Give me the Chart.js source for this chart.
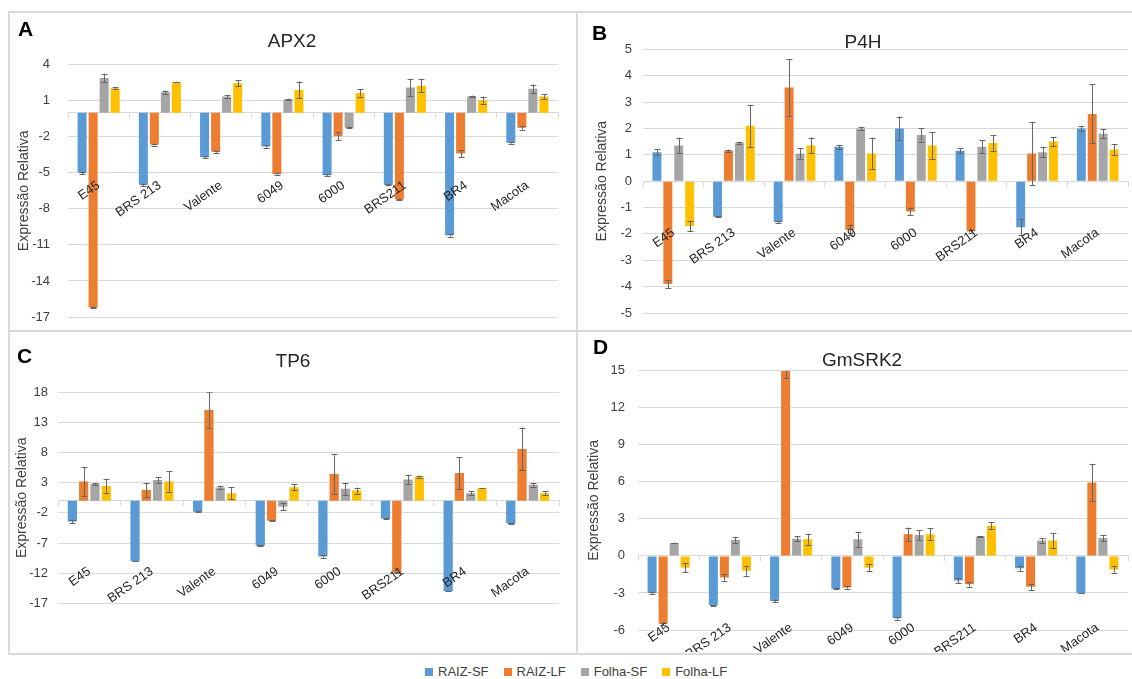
<!DOCTYPE html>
<html>
<head>
<meta charset="utf-8">
<script src="https://cdn.jsdelivr.net/npm/chart.js@4.4.1/dist/chart.umd.min.js"></script>
<style>
  body { margin: 0; background: #fff; width: 1132px; height: 679px; overflow: hidden; position: relative;
         font-family: "Liberation Sans", Arial, sans-serif; }
  .line { position: absolute; background: #d9d9d9; }
  canvas { position: absolute; }
  .tag { position: absolute; font-weight: bold; font-size: 21px; line-height: 1; color: #000; }
  #legend { position: absolute; left: 425px; top: 664px; display: flex; font-size: 13px; color: #404040; }
  #legend span.item { display: flex; align-items: center; margin-right: 15px; }
  #legend i { display: inline-block; width: 8px; height: 8px; margin-right: 5px; }
</style>
</head>
<body>
<div class="line" style="left:8px;top:11px;width:1124px;height:2px"></div>
<div class="line" style="left:8px;top:11px;width:2px;height:644px"></div>
<div class="line" style="left:576px;top:11px;width:2px;height:644px"></div>
<div class="line" style="left:8px;top:330px;width:1124px;height:2px"></div>
<div class="line" style="left:8px;top:653px;width:1124px;height:2px"></div>

<canvas id="cA" width="566" height="317" style="left:10px;top:13px"></canvas>
<canvas id="cB" width="554" height="317" style="left:578px;top:13px"></canvas>
<canvas id="cC" width="566" height="320" style="left:10px;top:332px"></canvas>
<canvas id="cD" width="554" height="320" style="left:578px;top:332px"></canvas>

<div class="tag" style="left:18px;top:18px">A</div>
<div class="tag" style="left:592px;top:22px">B</div>
<div class="tag" style="left:17px;top:345px">C</div>
<div class="tag" style="left:593px;top:336px">D</div>

<div id="legend"></div>

<script>
const categories = ['E45', 'BRS 213', 'Valente', '6049', '6000', 'BRS211', 'BR4', 'Macota'];
const seriesNames = ['RAIZ-SF', 'RAIZ-LF', 'Folha-SF', 'Folha-LF'];
const seriesColors = ['#5b9bd5', '#ed7d31', '#a5a5a5', '#ffc000'];

// one row per series: RAIZ-SF, RAIZ-LF, Folha-SF, Folha-LF
const apx2Values = [
  [-5.0, -6.0, -3.7, -2.8, -5.2, -6.0, -10.2, -2.5],
  [-16.2, -2.65, -3.25, -5.1, -1.95, -7.2, -3.4, -1.25],
  [2.9, 1.7, 1.35, 1.1, -1.25, 2.1, 1.35, 2.0],
  [2.05, 2.55, 2.45, 1.9, 1.65, 2.25, 1.05, 1.35]
];
const apx2Errors = [
  [0.1, 0.1, 0.1, 0.1, 0.1, 0.05, 0.1, 0.08],
  [0.05, 0.08, 0.08, 0.05, 0.35, 0.05, 0.3, 0.15],
  [0.35, 0.15, 0.1, 0.07, 0.05, 0.7, 0.08, 0.35],
  [0.1, 0.03, 0.25, 0.7, 0.3, 0.55, 0.3, 0.2]
];
const apx2Range = [-17, 4, 3];

const p4hValues = [
  [1.1, -1.35, -1.55, 1.3, 2.0, 1.15, -1.75, 2.0],
  [-3.9, 1.15, 3.55, -1.85, -1.15, -1.9, 1.05, 2.55],
  [1.35, 1.45, 1.05, 2.0, 1.75, 1.3, 1.1, 1.8],
  [-1.7, 2.1, 1.35, 1.05, 1.35, 1.45, 1.5, 1.2]
];
const p4hErrors = [
  [0.12, 0.02, 0.03, 0.08, 0.45, 0.1, 0.3, 0.08],
  [0.17, 0.05, 1.07, 0.2, 0.15, 0.05, 1.2, 1.12],
  [0.3, 0.05, 0.2, 0.05, 0.25, 0.25, 0.2, 0.18],
  [0.2, 0.8, 0.3, 0.6, 0.5, 0.3, 0.17, 0.2]
];
const p4hRange = [-5, 5, 1];

const tp6Values = [
  [-3.45, -10.0, -1.8, -7.45, -9.25, -2.95, -14.95, -3.75],
  [3.2, 1.8, 15.05, -3.3, 4.45, -11.9, 4.6, 8.6],
  [2.8, 3.45, 2.2, -1.0, 2.0, 3.55, 1.25, 2.65],
  [2.45, 3.2, 1.25, 2.25, 1.7, 4.0, 2.1, 1.25]
];
const tp6Errors = [
  [0.3, 0.05, 0.05, 0.05, 0.2, 0.1, 0.05, 0.05],
  [2.45, 1.2, 3.0, 0.1, 3.3, 0.1, 2.65, 3.55],
  [0.2, 0.5, 0.3, 0.6, 1.0, 0.8, 0.35, 0.3],
  [1.1, 1.7, 1.0, 0.5, 0.5, 0.15, 0.05, 0.35]
];
const tp6Range = [-17, 18, 5];

const srk2Values = [
  [-3.0, -4.0, -3.65, -2.65, -5.05, -2.0, -1.0, -3.0],
  [-5.5, -1.75, 15.0, -2.55, 1.75, -2.3, -2.5, 5.95],
  [1.05, 1.3, 1.4, 1.35, 1.7, 1.55, 1.25, 1.45],
  [-0.95, -1.2, 1.35, -0.95, 1.75, 2.45, 1.25, -1.1]
];
const srk2Errors = [
  [0.1, 0.03, 0.12, 0.03, 0.1, 0.2, 0.2, 0.03],
  [0.1, 0.25, 0.6, 0.1, 0.55, 0.2, 0.25, 1.5],
  [0.03, 0.25, 0.2, 0.6, 0.4, 0.05, 0.2, 0.25],
  [0.35, 0.4, 0.45, 0.3, 0.5, 0.3, 0.6, 0.25]
];
const srk2Range = [-6, 15, 3];

Chart.defaults.font.family = '"Liberation Sans", Arial, sans-serif';
Chart.defaults.color = '#404040';

// whiskers drawn through the y scale of each chart
const errorBars = {
  id: 'errorBars',
  afterDatasetsDraw(chart) {
    const { ctx, chartArea, scales } = chart;
    ctx.save();
    ctx.beginPath();
    ctx.rect(chartArea.left, chartArea.top, chartArea.width, chartArea.height);
    ctx.clip();
    ctx.strokeStyle = '#666';
    ctx.lineWidth = 1;
    chart.data.datasets.forEach((ds, i) => {
      chart.getDatasetMeta(i).data.forEach((bar, j) => {
        const hi = scales.y.getPixelForValue(ds.data[j] + ds.errors[j]);
        const lo = scales.y.getPixelForValue(ds.data[j] - ds.errors[j]);
        const x = Math.round(bar.x) + 0.5;
        ctx.beginPath();
        ctx.moveTo(x, hi); ctx.lineTo(x, lo);
        ctx.moveTo(x - 3, Math.round(hi) + 0.5); ctx.lineTo(x + 3, Math.round(hi) + 0.5);
        ctx.moveTo(x - 3, Math.round(lo) + 0.5); ctx.lineTo(x + 3, Math.round(lo) + 0.5);
        ctx.stroke();
      });
    });
    ctx.restore();
  }
};

function drawPanel(p) {
  const [min, max, step] = p.range;
  return new Chart(document.getElementById(p.id), {
    type: 'bar',
    data: {
      labels: categories,
      datasets: seriesNames.map((name, i) => ({
        label: name,
        data: p.values[i],
        errors: p.errors[i],
        backgroundColor: seriesColors[i],
        borderWidth: 0,
        categoryPercentage: 0.72,
        barPercentage: 0.82
      }))
    },
    options: {
      responsive: false,
      animation: false,
      layout: { padding: p.pad },
      plugins: {
        legend: { display: false },
        tooltip: { enabled: false },
        title: {
          display: true,
          text: p.title,
          color: '#262626',
          font: { size: 19, weight: 'normal', lineHeight: 1.2 },
          padding: p.titlePad
        }
      },
      scales: {
        x: {
          position: { y: 0 },
          // labels sit on the zero line and must not take room from the plot
          afterFit: (s) => { s.height = 0; s.paddingLeft = 0; s.paddingRight = 0; },
          grid: { drawOnChartArea: false, drawTicks: true, tickLength: 5, color: '#d9d9d9' },
          border: { color: '#d9d9d9' },
          ticks: { autoSkip: false, minRotation: 35, maxRotation: 35, padding: p.xLabelPad,
                   font: { size: 13 }, color: '#262626', z: 1 }
        },
        y: {
          min: min, max: max,
          afterFit: (s) => { s.width = p.yWidth; s.paddingTop = 0; s.paddingBottom = 0; },
          grid: { color: '#d9d9d9', drawTicks: false },
          border: { display: false },
          ticks: { stepSize: step, padding: p.yTickPad, font: { size: 13 }, color: '#404040' },
          title: { display: true, text: 'Expressão Relativa', color: '#404040',
                   font: { size: 14 }, padding: { top: p.yTitlePad, bottom: 0 } }
        }
      }
    },
    plugins: [errorBars]
  });
}

const panels = [
  { id: 'cA', title: 'APX2', values: apx2Values, errors: apx2Errors, range: apx2Range,
    pad: { left: 16, right: 18, top: 0, bottom: 13 }, titlePad: { top: 17.3, bottom: 11.6 },
    yWidth: 42, yTitlePad: -9.9, yTickPad: 18, xLabelPad: 60 },
  { id: 'cB', title: 'P4H', values: p4hValues, errors: p4hErrors, range: p4hRange,
    pad: { left: 20, right: 4, top: 0, bottom: 17 }, titlePad: { top: 18.6, bottom: -5.1 },
    yWidth: 45, yTitlePad: -3.9, yTickPad: 11, xLabelPad: 39 },
  { id: 'cC', title: 'TP6', values: tp6Values, errors: tp6Errors, range: tp6Range,
    pad: { left: 17, right: 17, top: 0, bottom: 48.7 }, titlePad: { top: 18.3, bottom: 19.2 },
    yWidth: 31, yTitlePad: -13.1, yTickPad: 10, xLabelPad: 58 },
  { id: 'cD', title: 'GmSRK2', values: srk2Values, errors: srk2Errors, range: srk2Range,
    pad: { left: 18, right: 4, top: 0, bottom: 22 }, titlePad: { top: 17.3, bottom: -1.4 },
    yWidth: 42, yTitlePad: -10.2, yTickPad: 13, xLabelPad: 59 }
];

panels.forEach(drawPanel);

const legend = document.getElementById('legend');
seriesNames.forEach((name, i) => {
  const item = document.createElement('span');
  item.className = 'item';
  item.innerHTML = '<i style="background:' + seriesColors[i] + '"></i>' + name;
  legend.appendChild(item);
});
</script>
</body>
</html>
